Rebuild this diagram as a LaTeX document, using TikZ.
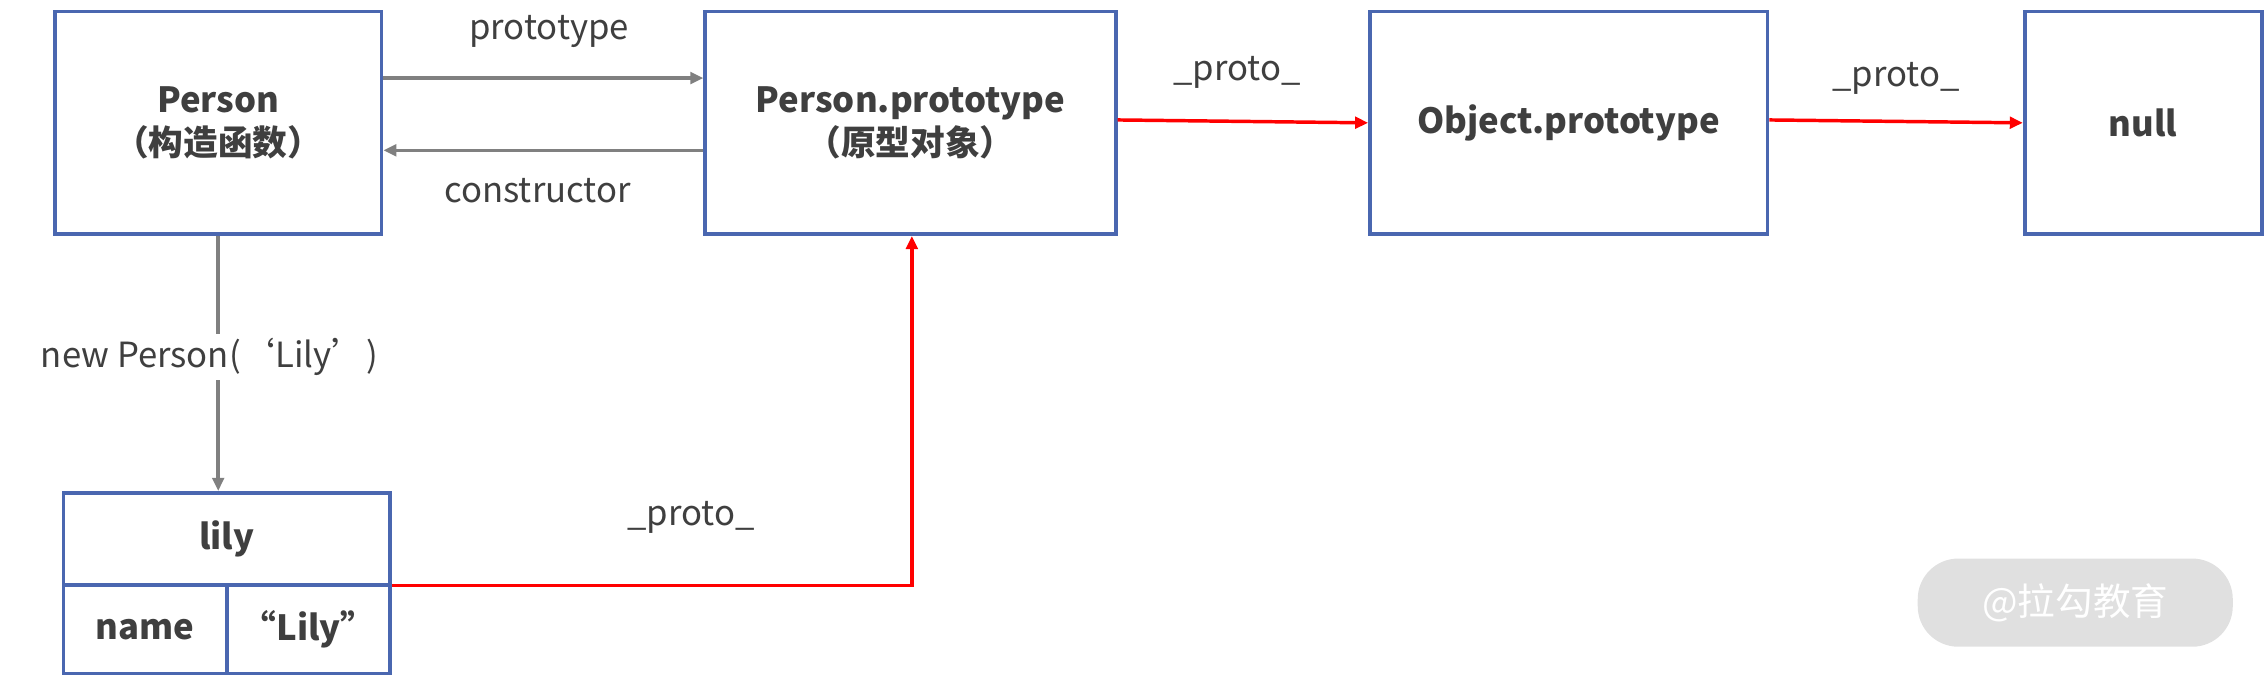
\documentclass[tikz,border=0pt]{standalone}
\usepackage{fontspec}
\setmainfont{Noto Sans CJK SC}
\usetikzlibrary{arrows.meta}
\definecolor{bx}{HTML}{4A67B0}
\definecolor{tx}{HTML}{3F3F3F}
\definecolor{ga}{HTML}{808080}
\begin{document}
\begin{tikzpicture}[x=1pt,y=-1pt,
  box/.style={draw=bx,line width=2.6pt,text=tx,font=\fontsize{24}{30}\selectfont\bfseries,align=center},
  lbl/.style={text=tx,font=\fontsize{24}{28}\selectfont},
  garr/.style={draw=ga,line width=2.4pt,-{Triangle[length=9pt,width=8pt]}},
  rarr/.style={draw=red,line width=2.4pt,-{Triangle[length=9pt,width=8pt]}}]
\useasboundingbox (0,0) rectangle (1568,469);
\node[box,minimum width=226pt,minimum height=154pt] (P) at (151,85) {Person\\（构造函数）};
\node[box,minimum width=284pt,minimum height=154pt] (PP) at (630,85) {Person.prototype\\（原型对象）};
\node[box,minimum width=275pt,minimum height=154pt] (OP) at (1085.5,85) {Object.prototype};
\node[box,minimum width=164pt,minimum height=154pt] (N) at (1483,85) {null};
% lily table
\node[box,minimum width=226pt,minimum height=64pt] (L) at (157,373) {lily};
\node[box,minimum width=113pt,minimum height=61pt] (LN) at (100.5,435.5) {name};
\node[box,minimum width=113pt,minimum height=61pt] (LV) at (213.5,435.5) {“Lily”};
\draw[garr] (P.east |- 0,54) -- (PP.west |- 0,54);
\draw[garr] (PP.west |- 0,104) -- (P.east |- 0,104);
\node[lbl] (t1) at (380,22) {prototype};
\node[lbl] (t2) at (372,132) {constructor};
\draw[rarr] (PP.east |- 0,83) -- (OP.west |- 0,85);
\node[lbl] (t3) at (856,50) {\_proto\_};
\draw[rarr] (OP.east |- 0,83) -- (N.west |- 0,85);
\node[lbl] (t4) at (1312,54) {\_proto\_};
\draw[garr] (P.south) -- (L.north -| P.south);
\node[lbl,fill=white,inner sep=3pt] (t5) at (145,247) {new Person(‘Lily’)};
\coordinate (c) at (631,405);
\draw[rarr] (LV.east |- 0,405) -- (c) -- (c |- PP.south);
\node[lbl] (t6) at (478,358) {\_proto\_};
\node[fill=black!12,rounded corners=28pt,minimum width=218pt,minimum height=61pt,text=white,font=\fontsize{26}{30}\selectfont] (W) at (1436,417) {@拉勾教育};
\end{tikzpicture}
\end{document}
